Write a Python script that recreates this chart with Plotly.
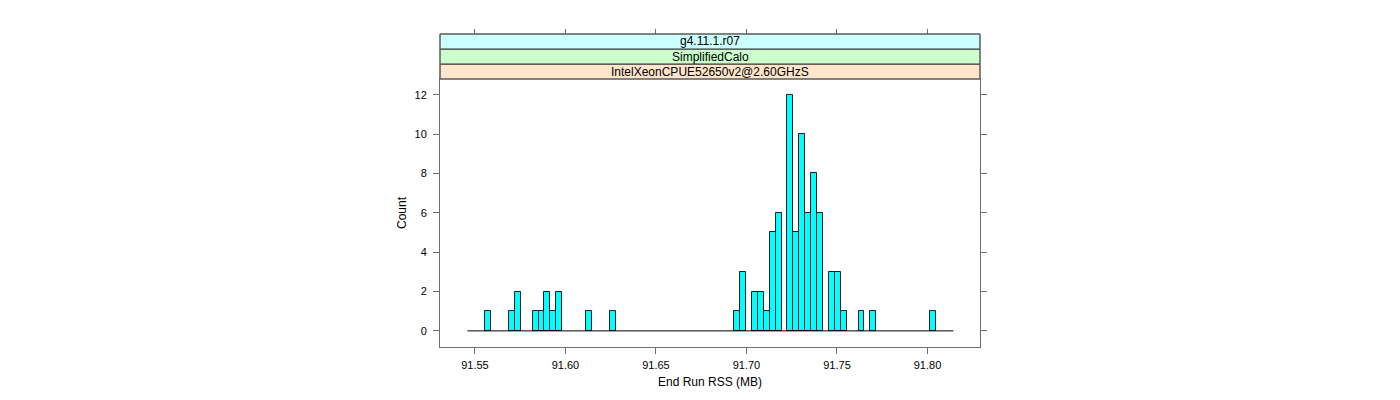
import plotly.graph_objects as go

# ---- data ----
bin_start = 91.54586      # first break (MB)
bin_width = 0.0032735     # break spacing (MB)
# counts for each of the 82 bins
counts = [0, 0, 0, 1, 0, 0, 0, 1, 2, 0,
          0, 1, 1, 2, 1, 2, 0, 0, 0, 0,
          1, 0, 0, 0, 1, 0, 0, 0, 0, 0,
          0, 0, 0, 0, 0, 0, 0, 0, 0, 0,
          0, 0, 0, 0, 0, 1, 3, 0, 2, 2,
          1, 5, 6, 0, 12, 5, 10, 6, 8, 6,
          0, 3, 3, 1, 0, 0, 1, 0, 1, 0,
          0, 0, 0, 0, 0, 0, 0, 0, 1, 0,
          0, 0]
x_tick_vals = [91.55, 91.60, 91.65, 91.70, 91.75, 91.80]
x_tick_text = ["91.55", "91.60", "91.65", "91.70", "91.75", "91.80"]
y_tick_vals = [0, 2, 4, 6, 8, 10, 12]
strip_labels = ["g4.11.1.r07", "SimplifiedCalo", "IntelXeonCPUE52650v2@2.60GHzS"]
strip_colors = ["#CCFFFF", "#CCFFCC", "#FFE5CC"]
x_title = "End Run RSS (MB)"
y_title = "Count"

n_bins = len(counts)
centers = [bin_start + (i + 0.5) * bin_width for i in range(n_bins)]
bin_end = bin_start + n_bins * bin_width
x_range = [91.5307, 91.8290]
y_range = [-0.82, 12.8]

FONT = "Liberation Sans, Arial, Helvetica, sans-serif"
FRAME = "#6e6e6e"
OFF = 8  # page body margin

fig = go.Figure()
# baseline (zero-height bins drawn as outline)
fig.add_trace(go.Scatter(x=[bin_start, bin_end], y=[0, 0], mode="lines",
                         line=dict(color="black", width=1), hoverinfo="skip",
                         showlegend=False))
fig.add_trace(go.Bar(x=[c for c, v in zip(centers, counts) if v > 0],
                     y=[v for v in counts if v > 0],
                     width=bin_width,
                     marker=dict(color="#00FFFF", line=dict(color="#1a1a1a", width=1)),
                     showlegend=False))
# invisible trace to carry the top tick axis
fig.add_trace(go.Scatter(x=[bin_start], y=[0], xaxis="x2", mode="markers",
                         marker=dict(opacity=0), hoverinfo="skip", showlegend=False))

H_TOP, H_BOT = 34 - OFF, 53 + OFF
paper_h = 400 - H_TOP - H_BOT
def py(pix):
    return (400 - H_BOT - (pix - OFF)) / paper_h

plot_top = py(79)
strip_edges = [py(79), py(64), py(49), py(34)]

fig.update_layout(
    width=1400, height=400,
    margin=dict(l=440 - OFF, r=420 + OFF, t=H_TOP, b=H_BOT, pad=0),
    plot_bgcolor="white", paper_bgcolor="white",
    bargap=0,
    font=dict(family=FONT, size=11, color="black"),
    xaxis=dict(range=x_range, tickvals=x_tick_vals, ticktext=x_tick_text,
               ticks="outside", ticklen=6, tickcolor=FRAME, showgrid=False,
               zeroline=False, showline=True, linecolor=FRAME, linewidth=1,
               mirror=True, anchor="y", ticklabelstandoff=2,
               title=dict(text=x_title, font=dict(size=12), standoff=7),
               tickfont=dict(size=11)),
    xaxis2=dict(range=x_range, tickvals=x_tick_vals, showticklabels=False,
                ticks="outside", ticklen=5, tickcolor=FRAME, showgrid=False,
                zeroline=False, showline=False, overlaying="x", side="top",
                anchor="free", position=1),
    yaxis=dict(range=y_range, domain=[0, plot_top], tickvals=y_tick_vals,
               ticks="outside", ticklen=6, tickcolor=FRAME, showgrid=False,
               zeroline=False, showline=True, linecolor=FRAME, linewidth=1,
               mirror="ticks", ticklabelstandoff=4,
               title=dict(text=y_title, font=dict(size=12), standoff=5),
               tickfont=dict(size=11)),
)

# strips (bottom strip is the last label)
for k, (lab, col) in enumerate(zip(reversed(strip_labels), reversed(strip_colors))):
    y0, y1 = strip_edges[k], strip_edges[k + 1]
    fig.add_shape(type="rect", xref="paper", yref="paper", x0=0, x1=1, y0=y0, y1=y1,
                  fillcolor=col, line=dict(color="#333333", width=1), layer="above")
    fig.add_annotation(x=0.5, y=(y0 + y1) / 2, xref="paper", yref="paper",
                       text=lab, showarrow=False, font=dict(size=12, family=FONT),
                       xanchor="center", yanchor="middle")
# grey outer edge of the strips
fig.add_shape(type="rect", xref="paper", yref="paper", x0=0, x1=1,
              y0=strip_edges[0], y1=strip_edges[-1],
              line=dict(color=FRAME, width=1), fillcolor="rgba(0,0,0,0)", layer="above")

fig.write_html("out.html")
